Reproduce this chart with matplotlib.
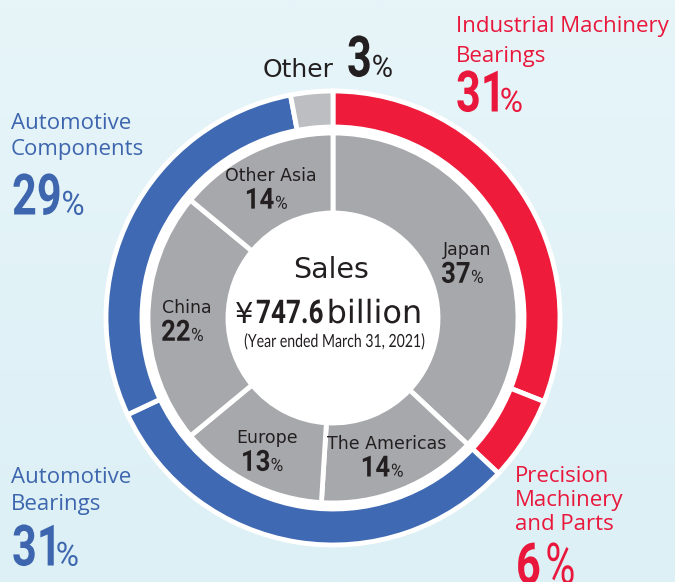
import numpy as np
import matplotlib.pyplot as plt
from matplotlib.patches import Circle
from matplotlib.path import Path
from matplotlib.transforms import Affine2D, IdentityTransform
from matplotlib.textpath import TextPath
from matplotlib.font_manager import FontProperties
from matplotlib import patheffects

# outer ring: business segments (share of sales, %)
segments = ['Industrial Machinery Bearings', 'Precision Machinery and Parts',
            'Automotive Bearings', 'Automotive Components', 'Other']
segment_pct = [31, 6, 31, 29, 3]
segment_colors = ['#ee1b3b', '#ee1b3b', '#3f69b3', '#3f69b3', '#bdbec1']

# inner ring: sales by region (%)
regions = ['Japan', 'The Americas', 'Europe', 'China', 'Other Asia']
region_pct = [37, 14, 13, 22, 14]

total_sales = '747.6'
period = '(Year ended March 31, 2021)'

RED = '#e9173b'
BLUE = '#3e66ae'
DARK = '#231f20'

W, H = 675, 582
DPI = 100
plt.rcParams['font.family'] = ['Open Sans', 'DejaVu Sans']
plt.rcParams['mathtext.fontset'] = 'custom'
plt.rcParams['mathtext.rm'] = 'Roboto'
plt.rcParams['mathtext.bf'] = 'Roboto:bold'


class Squeeze(patheffects.AbstractPathEffect):
    """draw text narrower (condensed look), keeping it a normal Text artist"""

    def __init__(self, sx):
        super().__init__()
        self.sx = sx

    def draw_path(self, renderer, gc, tpath, affine, rgbFace=None):
        ext = tpath.transformed(affine).get_extents()
        x0 = (ext.x0 + ext.x1) / 2
        t = affine + Affine2D().translate(-x0, 0).scale(self.sx, 1).translate(x0, 0)
        renderer.draw_path(gc, tpath, t, rgbFace)


class LeadSqueeze(patheffects.AbstractPathEffect):
    """condense the leading number of a text and scale/shift what follows it"""

    def __init__(self, split, sx, ps, psx, gap, center):
        super().__init__()
        self.split, self.sx, self.ps, self.psx = split, sx, ps, psx
        self.gap, self.center = gap, center

    def draw_path(self, renderer, gc, tpath, affine, rgbFace=None):
        v = affine.transform(tpath.vertices)
        codes = tpath.codes
        ox, oy = affine.transform((0, 0))
        starts = np.flatnonzero(codes == Path.MOVETO)
        ends = np.r_[starts[1:], len(codes)]
        is_num = np.zeros(len(codes), bool)
        for a, b in zip(starts, ends):
            if v[a:b, 0].min() - ox < self.split:
                is_num[a:b] = True
        new = v.copy()
        n0, n1 = v[is_num, 0].min(), v[is_num, 0].max()
        new[is_num, 0] = ox + (v[is_num, 0] - n0) * self.sx
        right = ox + (n1 - n0) * self.sx
        rest = ~is_num
        if rest.any():
            p0 = v[rest, 0].min()
            new[rest, 0] = right + self.gap + (v[rest, 0] - p0) * self.ps * self.psx
            new[rest, 1] = oy + (v[rest, 1] - oy) * self.ps
        if self.center:
            new[:, 0] += (v[:, 0].min() + v[:, 0].max()) / 2 - (new[:, 0].min() + new[:, 0].max()) / 2
        renderer.draw_path(gc, Path(new, codes), IdentityTransform(), rgbFace)


fig = plt.figure(figsize=(W / DPI, H / DPI), dpi=DPI)
ax = fig.add_axes([0, 0, 1, 1])

# pale blue background
grad = np.linspace(0, 1, 256).reshape(-1, 1)
top = np.array([220, 240, 246]) / 255
bot = np.array([231, 245, 249]) / 255
bg = top + (bot - top) * grad[..., None]
ax.imshow(bg, extent=[0, W, H, 0], aspect='auto', zorder=0)


def py(y):
    # pixel row (from top) -> data y
    return H - y


cx, cy = 333, py(318)
ax.add_patch(Circle((cx, cy), 192, color='white', zorder=1))

ax.pie(segment_pct, radius=227, center=(cx, cy), startangle=90, counterclock=False,
       colors=segment_colors, frame=True,
       wedgeprops=dict(width=36, edgecolor='white', linewidth=3.5))
ax.pie(region_pct, radius=185, center=(cx, cy), startangle=90, counterclock=False,
       colors=['#a7a8ab'] * len(regions), frame=True,
       wedgeprops=dict(width=80, edgecolor='white', linewidth=3.5))
ax.set_xlim(0, W)
ax.set_ylim(0, H)
ax.set_aspect('equal')
ax.axis('off')


def num_right(num, size):
    # ink right edge of the bold number alone (tells its glyphs from what follows)
    tp = TextPath((0, 0), str(num), size=size * DPI / 72,
                  prop=FontProperties(family='Roboto', weight='bold'))
    return tp.get_extents().x1 + 0.5


def pct_label(x, y, num, color=DARK, size=41, pct_size=24, sx=0.76, psx=0.95,
              center=False, gap=1.5):
    eff = LeadSqueeze(num_right(num, size), sx, pct_size / size, psx, gap, center)
    ax.text(x, y, f'{num}' + r'$\mathrm{\%}$', ha='center' if center else 'left',
            va='baseline', fontsize=size, weight='bold', color=color,
            family=['Roboto', 'DejaVu Sans'], zorder=6, path_effects=[eff])


# region labels at the middle of each inner wedge
ang = 90
for name, pct in zip(regions, region_pct):
    mid = np.deg2rad(ang - pct * 3.6 / 2)
    ang -= pct * 3.6
    x = cx + 146 * np.cos(mid)
    y = cy + 146 * np.sin(mid)
    ax.text(x, y + 5, name, ha='center', va='baseline', fontsize=12.5,
            family='DejaVu Sans', color=DARK, zorder=5)
    pct_label(x - 4, y - 23, pct, size=21, pct_size=13, sx=0.88, psx=0.95, center=True)

# centre text
ax.text(331, py(278), 'Sales', ha='center', va='baseline', fontsize=20.5,
        family='DejaVu Sans', color=DARK)
ax.text(235, py(323), '¥', ha='left', va='baseline', fontsize=21,
        family='DejaVu Sans', color=DARK)
ax.text(256, py(323), r'$\mathbf{' + total_sales + '}$ billion', ha='left', va='baseline',
        fontsize=23.5, family='DejaVu Sans', color=DARK, zorder=6,
        path_effects=[LeadSqueeze(num_right(total_sales, 23.5), 0.8, 23 / 23.5, 1.0, 4, False)])
ax.text(334, py(347), period, ha='center', va='baseline', fontsize=13, family='Lato',
        color=DARK, path_effects=[Squeeze(0.78)])

# outer labels
LAB = 16
ax.text(456, py(32), 'Industrial Machinery', fontsize=LAB, color=RED, va='baseline')
ax.text(456, py(62), 'Bearings', fontsize=LAB, color=RED, va='baseline')
pct_label(456, py(112), segment_pct[0], RED, gap=2)

ax.text(515, py(482), 'Precision', fontsize=LAB, color=RED, va='baseline')
ax.text(515, py(506), 'Machinery', fontsize=LAB, color=RED, va='baseline')
ax.text(515, py(530), 'and Parts', fontsize=LAB, color=RED, va='baseline')
pct_label(516, py(584), segment_pct[1], RED, pct_size=41, psx=0.72, gap=6)

ax.text(11, py(129), 'Automotive', fontsize=LAB, color=BLUE, va='baseline')
ax.text(11, py(155), 'Components', fontsize=LAB, color=BLUE, va='baseline')
pct_label(12, py(215), segment_pct[3], BLUE, gap=2)

ax.text(11, py(483), 'Automotive', fontsize=LAB, color=BLUE, va='baseline')
ax.text(11, py(510), 'Bearings', fontsize=LAB, color=BLUE, va='baseline')
pct_label(12, py(566), segment_pct[2], BLUE, gap=2)

ax.text(263, py(77), 'Other', fontsize=18, family='DejaVu Sans', color=DARK, va='baseline')
pct_label(347, py(77), segment_pct[4], DARK, pct_size=22, gap=2)

fig.savefig('out.png', dpi=DPI)
